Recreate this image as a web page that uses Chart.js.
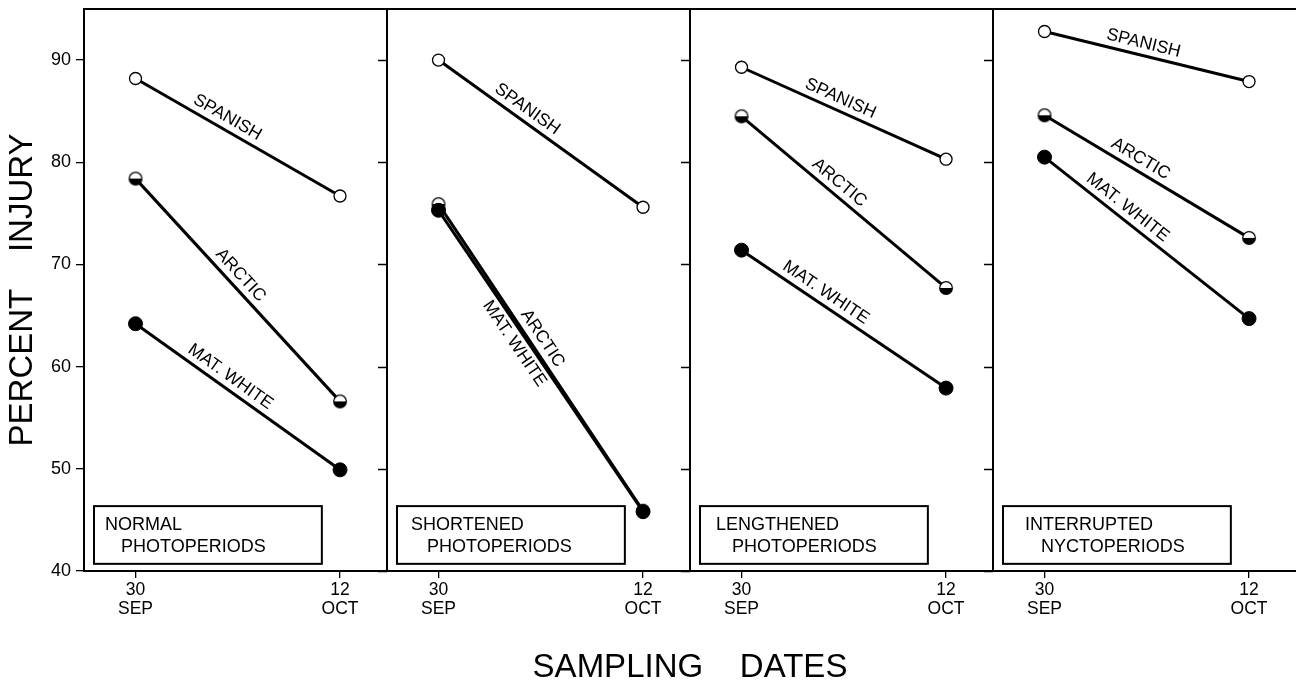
<!DOCTYPE html>
<html lang="en"><head>
<title>Percent injury by sampling date</title>
<style>
* { margin: 0; padding: 0 }
body { background: #fff; }
</style>
<script src="https://cdn.jsdelivr.net/npm/chart.js"></script>
<script>

// one panel per photoperiod treatment
const PANEL_LINE1 = ["NORMAL", "SHORTENED", "LENGTHENED", "INTERRUPTED"];
const PANEL_LINE2 = ["PHOTOPERIODS", "PHOTOPERIODS", "PHOTOPERIODS", "NYCTOPERIODS"];

const DATE_LABELS = [["30", "SEP"], ["12", "OCT"]];
const Y_TICKS = [40, 50, 60, 70, 80, 90];

const SERIES_NAMES = ["SPANISH", "ARCTIC", "MAT. WHITE"];

// percent injury [30 sep, 12 oct], one pair per panel
const spanish  = [[88.2, 76.7], [90.0, 75.6], [89.3, 80.3], [92.8, 87.9]];
const arctic   = [[78.4, 56.6], [75.9, 45.9], [84.5, 67.7], [84.6, 72.6]];
const matWhite = [[64.2, 49.9], [75.3, 45.8], [71.4, 57.9], [80.5, 64.7]];

// where the two dates sit inside a panel (panel = 1 x unit)
const DATE_POS = [0.17, 0.845];

// label placement along each line: fraction of the way, which side
const LABEL_FRAC = [[0.42, 0.47, 0.43], [0.40, 0.46, 0.42], [0.46, 0.44, 0.38], [0.47, 0.44, 0.37]];
const LABEL_SIDE = [[1, 1, 1], [1, 1, -1], [1, 1, 1], [1, 1, 1]];
const BOX_INDENT = [11, 14, 16, 22];

const FONT = "'Liberation Sans', Arial, Helvetica, sans-serif";

function get(id) {
    return document.getElementById(id);
}

function halfCircle() {
    const c = document.createElement("canvas");
    c.width = 18; c.height = 18;
    const g = c.getContext("2d");
    g.beginPath();
    g.arc(9, 9, 6.3, 0, Math.PI * 2);
    g.fillStyle = "#fff";
    g.fill();
    g.beginPath();
    g.arc(9, 9, 6.3, 0, Math.PI);
    g.closePath();
    g.fillStyle = "#000";
    g.fill();
    g.beginPath();
    g.arc(9, 9, 6.3, 0, Math.PI * 2);
    g.lineWidth = 1.3;
    g.strokeStyle = "#000";
    g.stroke();
    return c;
}

function buildDatasets() {
    const half = halfCircle();
    const all = [spanish, arctic, matWhite];
    const styles = [
        { pointStyle: "circle", pointRadius: 6, pointBackgroundColor: "#fff", pointBorderWidth: 1.3, order: 2 },
        { pointStyle: half, pointRadius: 6, pointBackgroundColor: "#fff", pointBorderWidth: 1.3, order: 1 },
        { pointStyle: "circle", pointRadius: 7, pointBackgroundColor: "#000", pointBorderWidth: 1, order: 0 },
    ];
    const sets = [];
    for (let p = 0; p < PANEL_LINE1.length; p++) {
        for (let s = 0; s < all.length; s++) {
            const vals = all[s][p];
            sets.push(Object.assign({
                label: SERIES_NAMES[s] + " / " + PANEL_LINE1[p],
                data: vals.map((v, i) => ({ x: p + DATE_POS[i], y: v })),
                borderColor: "#000",
                borderWidth: 3,
                pointBorderColor: "#000",
                pointHoverRadius: 7,
            }, styles[s]));
        }
    }
    return sets;
}

function noPadding(s) {
    s.paddingTop = 0;
    s.paddingBottom = 0;
    s.paddingLeft = 0;
    s.paddingRight = 0;
}

const panelFrame = {
    id: "panelFrame",
    beforeDatasetsDraw(chart) {
        const { ctx, chartArea: a, scales: { x, y } } = chart;
        ctx.save();
        ctx.strokeStyle = "#000";
        ctx.lineWidth = 2;
        ctx.beginPath();
        ctx.moveTo(a.left - 1, a.top);
        ctx.lineTo(a.right, a.top);
        for (let p = 1; p < PANEL_LINE1.length; p++) {
            const px = x.getPixelForValue(p);
            ctx.moveTo(px, a.top);
            ctx.lineTo(px, a.bottom);
        }
        ctx.stroke();

        // y ticks repeated on each divider
        ctx.lineWidth = 1.3;
        ctx.beginPath();
        for (let p = 1; p < PANEL_LINE1.length; p++) {
            const px = x.getPixelForValue(p);
            for (const v of Y_TICKS) {
                const py = Math.round(y.getPixelForValue(v)) + 0.5;
                ctx.moveTo(px - 9, py);
                ctx.lineTo(px, py);
            }
        }
        ctx.stroke();

        // treatment boxes
        ctx.font = "18px " + FONT;
        ctx.fillStyle = "#000";
        ctx.textBaseline = "middle";
        ctx.textAlign = "left";
        ctx.lineWidth = 2;
        for (let p = 0; p < PANEL_LINE1.length; p++) {
            const l = x.getPixelForValue(p + 0.033);
            const r = x.getPixelForValue(p + 0.785);
            const t = y.getPixelForValue(46.35);
            const b = y.getPixelForValue(40.7);
            ctx.strokeRect(l, t, r - l, b - t);
            ctx.fillText(PANEL_LINE1[p], l + BOX_INDENT[p], t + 19);
            ctx.fillText(PANEL_LINE2[p], l + BOX_INDENT[p] + 16, t + 40.5);
        }
        ctx.restore();
    },
    afterDatasetsDraw(chart) {
        const ctx = chart.ctx;
        ctx.save();
        ctx.font = "17.5px " + FONT;
        ctx.fillStyle = "#000";
        ctx.textAlign = "center";
        ctx.textBaseline = "middle";
        for (let p = 0; p < PANEL_LINE1.length; p++) {
            for (let s = 0; s < SERIES_NAMES.length; s++) {
                const pts = chart.getDatasetMeta(p * 3 + s).data;
                const x0 = pts[0].x, y0 = pts[0].y, x1 = pts[1].x, y1 = pts[1].y;
                const dx = x1 - x0, dy = y1 - y0;
                const len = Math.sqrt(dx * dx + dy * dy);
                const f = LABEL_FRAC[p][s];
                const off = 12 * LABEL_SIDE[p][s];
                const cx = x0 + dx * f + (dy / len) * off;
                const cy = y0 + dy * f - (dx / len) * off;
                ctx.save();
                ctx.translate(cx, cy);
                ctx.rotate(Math.atan2(dy, dx));
                ctx.fillText(SERIES_NAMES[s], 0, 0);
                ctx.restore();
            }
        }
        ctx.restore();
    },
};

function bodyOnLoad() {
    Chart.defaults.font.family = FONT;
    Chart.defaults.color = "#000";

    new Chart(get("InjuryChart"), {
        type: "line",
        data: { datasets: buildDatasets() },
        plugins: [panelFrame],
        options: {
            responsive: false,
            animation: false,
            layout: { autoPadding: false, padding: { top: 9, left: 0, right: 0, bottom: 0 } },
            plugins: {
                legend: { display: false },
                tooltip: { enabled: false },
            },
            scales: {
                x: {
                    type: "linear",
                    min: 0,
                    max: PANEL_LINE1.length,
                    afterBuildTicks: s => {
                        const t = [];
                        for (let p = 0; p < PANEL_LINE1.length; p++) {
                            DATE_POS.forEach(d => t.push({ value: p + d }));
                        }
                        s.ticks = t;
                    },
                    afterFit: s => { s.height = 113; noPadding(s); },
                    border: { display: true, color: "#000", width: 2 },
                    grid: { drawOnChartArea: false, tickLength: 7, color: "#000", lineWidth: 1.3 },
                    ticks: {
                        autoSkip: false,
                        maxRotation: 0,
                        padding: 3,
                        font: { size: 17.5, lineHeight: 1.07 },
                        callback: (v, i) => DATE_LABELS[i % 2],
                    },
                    title: {
                        display: true,
                        text: "SAMPLING    DATES",
                        font: { size: 33, lineHeight: 1 },
                        padding: { top: 0, bottom: 0 },
                    },
                },
                y: {
                    min: 40,
                    max: 95,
                    afterBuildTicks: s => { s.ticks = Y_TICKS.map(v => ({ value: v })); },
                    afterFit: s => { s.width = 84; noPadding(s); },
                    border: { display: true, color: "#000", width: 2 },
                    grid: { drawOnChartArea: false, tickLength: 8, color: "#000", lineWidth: 1.3 },
                    ticks: { padding: 5, font: { size: 18, lineHeight: 1 } },
                    title: {
                        display: true,
                        text: "PERCENT    INJURY",
                        font: { size: 33, lineHeight: 1 },
                        padding: { top: 6.5, bottom: 0 },
                    },
                },
            },
        },
    });
}

</script>
</head><body onload="bodyOnLoad()">

<canvas id="InjuryChart" width="1296" height="684"></canvas>

</body></html>
